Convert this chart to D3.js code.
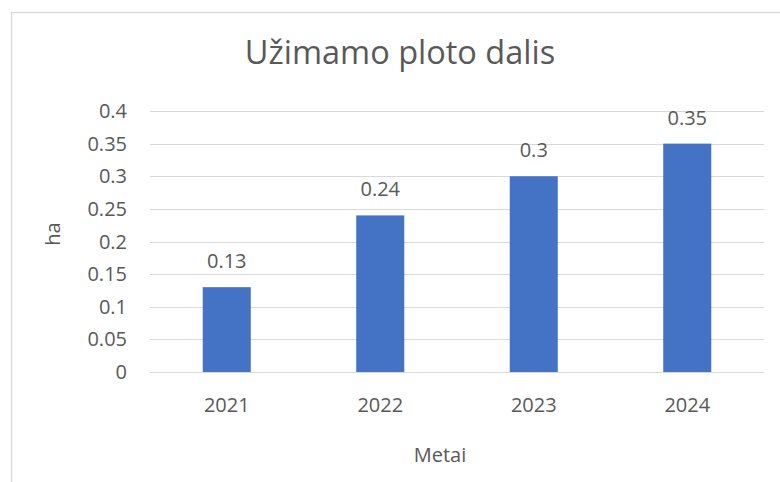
<!doctype html>
<html>
<head>
    <meta charset="utf-8">
    <style>
        body {
            margin: 0;
            background: white;
        }

        svg {
            display: block;
        }

        text {
            font-family: "Open Sans", sans-serif;
            fill: #595959;
        }

        .grid line {
            stroke: #d9d9d9;
            stroke-width: 1.3;
            shape-rendering: crispEdges;
        }

        .bar {
            fill: #4472c4;
        }
    </style>
    <script src="https://d3js.org/d3.v7.min.js"></script>
</head>
<body>
<script>
    // data
    const years = ['2021', '2022', '2023', '2024']
    const shares = [0.13, 0.24, 0.3, 0.35]
    const yTicks = [0, 0.05, 0.1, 0.15, 0.2, 0.25, 0.3, 0.35, 0.4]

    const chartTitle = 'Užimamo ploto dalis'
    const xTitle = 'Metai'
    const yTitle = 'ha'

    const width = 780, height = 482
    const margin = {top: 111, right: 16, bottom: 110, left: 150}
    const labelSize = '20px'

    const svg = d3.select('body')
        .append('svg')
        .attr('width', width)
        .attr('height', height)

    // chart frame, runs off the right and bottom of the window
    svg.append('rect')
        .attr('x', 11.5)
        .attr('y', 12.5)
        .attr('width', width + 20)
        .attr('height', height + 20)
        .attr('fill', 'white')
        .attr('stroke', '#d9d9d9')
        .attr('stroke-width', 1.3)

    const x = d3.scaleBand()
        .domain(years)
        .range([margin.left, width - margin.right])
        .paddingInner(0.687)
        .paddingOuter(0.3435)

    const y = d3.scaleLinear()
        .domain([0, 0.4])
        .range([height - margin.bottom, margin.top])

    // gridlines
    const grid = svg.append('g').attr('class', 'grid')
    grid.selectAll('line').data(yTicks).enter()
        .append('line')
        .attr('x1', margin.left)
        .attr('x2', width - margin.right)
        .attr('y1', d => Math.round(y(d)) + 0.5)
        .attr('y2', d => Math.round(y(d)) + 0.5)

    // y tick labels
    svg.append('g').selectAll('text').data(yTicks).enter()
        .append('text')
        .attr('x', 127)
        .attr('y', d => y(d))
        .attr('dy', '0.35em')
        .attr('text-anchor', 'end')
        .style('font-size', labelSize)
        .text(d => d3.format('~g')(d))

    // bars
    svg.append('g').selectAll('rect').data(shares).enter()
        .append('rect')
        .attr('class', 'bar')
        .attr('x', (d, i) => x(years[i]))
        .attr('width', x.bandwidth())
        .attr('y', d => y(d))
        .attr('height', d => y(0) - y(d))

    // value labels
    svg.append('g').selectAll('text').data(shares).enter()
        .append('text')
        .attr('x', (d, i) => x(years[i]) + x.bandwidth() / 2)
        .attr('y', d => y(d) - 19)
        .attr('text-anchor', 'middle')
        .style('font-size', labelSize)
        .text(d => d3.format('~g')(d))

    // x tick labels
    svg.append('g').selectAll('text').data(years).enter()
        .append('text')
        .attr('x', d => x(d) + x.bandwidth() / 2)
        .attr('y', 412)
        .attr('text-anchor', 'middle')
        .style('font-size', labelSize)
        .text(d => d)

    // titles
    svg.append('text')
        .attr('x', 400)
        .attr('y', 64)
        .attr('text-anchor', 'middle')
        .style('font-size', '32.5px')
        .text(chartTitle)

    svg.append('text')
        .attr('x', 440)
        .attr('y', 462)
        .attr('text-anchor', 'middle')
        .style('font-size', labelSize)
        .text(xTitle)

    svg.append('text')
        .attr('transform', 'translate(60,234) rotate(-90)')
        .attr('text-anchor', 'middle')
        .style('font-size', labelSize)
        .text(yTitle)
</script>
</body>
</html>
